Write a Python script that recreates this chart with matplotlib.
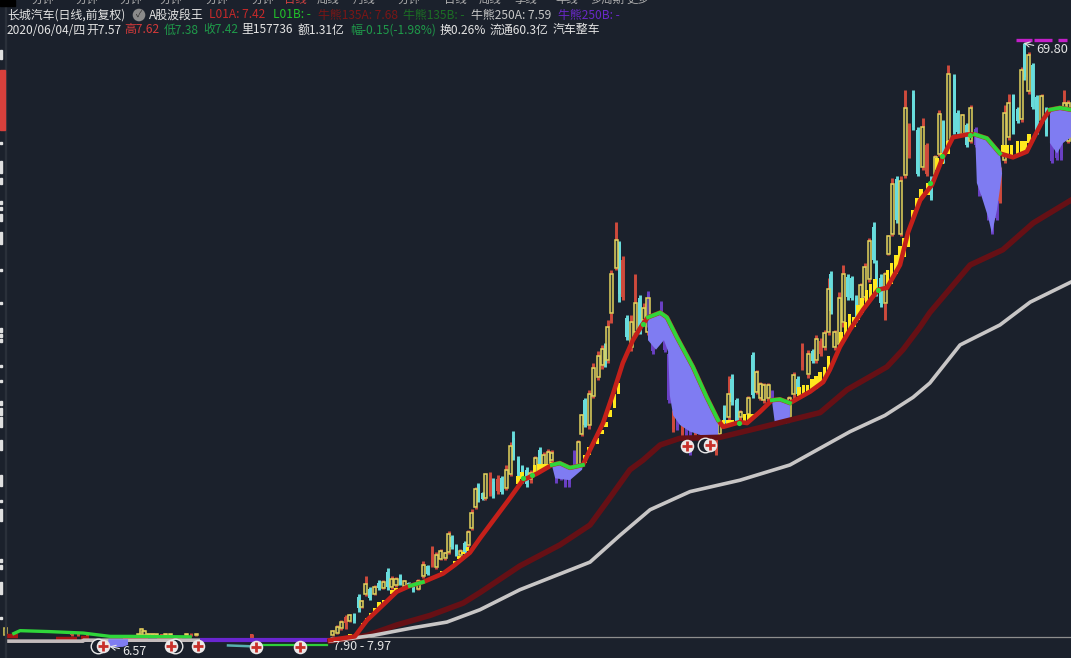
import numpy as np
import matplotlib
matplotlib.use("Agg")
import matplotlib.pyplot as plt
from matplotlib.patches import Rectangle

plt.rcParams['font.family'] = ['Noto Sans CJK SC', 'DejaVu Sans']
W, H = 1071, 658
BG = '#1b212c'

# ---- candles ----
candle_day = [-0.1,1,2,3,4,5.1,6.1,6.8,7.8,8.8,9.9,10.9,12,13,14,15,16,17,18,19.1,20.3,21.5,22.5,23.6,24.6,25.6,26.7,27.5,28.3,29.3,30.3,31.4,32.2,33,34,34.6,
 35.6,36.3,37.4,38.2,39.2,40.2,41.3,42.3,42.9,44.1,45.1,46.1,47.1,48.2,49.2,50.2,51.3,52.1,53.2,54.3,55.3,56.3,57.4,58.4,59.2,60,61,62,63.1,64.1,64.8,
 65.4,66.3,67.4,68.2,69,70,71,72,73,74,75,75.1,76.1,77.1,78.1,79,80,81,82,83.1,84.1,85.1,86.2,87.2,88.2,89.3,90.3,91.3,92.1,93.2,94.2,95,96.1,97,98.9,99.9,100.9,101.7,102.6,103.6,104.6,105.6,106.7,107.6,108.6,109.7,110.7,111.7,
 113.1,114.2,115.1,116.1,117.1,118,118.5,119.5,120.5,121.5,122.5,123.5,124.6,125.6,126.6,127.7,128.7,129.4,130.4,131.5,132.2,133.2,134.2,135.2,
 136.2,137.2,138.2,139.2,140.4,141.4,142.4,143.4,144.4,145.3,146.5,147.9,148.8,149.8,150.9,151.9,153,153.9,155,156,157,158,158.8,159.9,160.9,162,163,164,164.6,165.6,166.6,167.6,168.8,169.8,171.1,172.3,173.4,174.1,175.1,
 -77.9,-62.2,-60.6,-58.6,-46.3,-45.6,-45,-44,-43,-42,-40.8,-39.9,-38.8,-34.9,-33.7,-32.5,-19.3]
candle_high = [8.7,9.2,9.7,10.2,10.3,10.5,12.4,11.8,14.3,13.2,13.4,13.9,13.9,15.2,14.3,14.2,14.5,13.9,13.7,13.6,14,15.9,15.5,17.5,16.9,17.2,16.9,19.1,18.6,17.7,17.2,18,19.2,21.4,23.7,24.1,
 23.2,25.1,25.3,24.6,24.9,24.8,26,28.4,29.6,26.9,26,25.8,25.5,26.9,27.9,27.4,27.7,27.6,25.3,25.6,25.5,26,27.6,28.6,31.4,33,33.9,36.7,38,38.6,38.8,
 41.2,46.5,51.5,49.5,47.9,41.7,41.7,46.1,43.8,43,43.7,44.3,41.6,41.6,43.2,41.9,37.9,31.8,31.6,31.4,31.4,30.4,31.2,30.7,30.4,30.9,29.3,31.1,30.7,32.3,35.3,35.6,33,31.8,33.2,37.9,36,34.7,34.6,34.6,33.9,32.5,32.6,32.5,33.2,35.8,35.3,38.8,
 38.1,38.2,39.6,39.3,40.2,45.6,46.4,40.2,44.2,47,46,45.8,43.8,45.1,47.2,49.8,51.5,47.5,46,46.3,50.1,56.1,56.3,56.3,
 65.4,61.9,65.4,61.5,62.4,59.8,56.3,58.5,63.3,62.2,68,67,63.3,62.9,61.9,63.8,61.5,59.4,57.3,55.6,54.2,54.2,57.3,63.8,65,65,63.6,67.8,70.3,69.4,68.2,64.8,65,63.6,61.5,60.5,60.1,65.4,64.3,
 9.0,8.5,8.3,8.3,8.3,8.85,8.7,8.4,8.4,8.25,8.25,8.4,8.3,8.4,8.4,8.4,8.25]
candle_low = [8.0,8.2,8.7,8.8,9.5,9.4,10.6,11,12.2,11.8,12.3,12.9,13,12.9,13,13.2,13.4,13.2,13.3,12.7,12.9,14.1,14.4,15.3,15.1,16,16,16.7,17.2,16.4,16.3,16.7,17.4,19.2,21.4,22.1,
 22.3,22.3,22.7,22.5,23,23,23.4,24.8,26.5,24.8,24.1,23.7,24.1,25.1,25.5,25.8,25.8,26.3,24.1,24.4,23.7,23.7,25.5,25.8,29,30,29.8,33,34.9,36.1,36.3,
 36.7,40.9,46.5,43.1,43.3,39.1,38,39.8,39.8,40.9,39.6,40.5,37.7,38.6,40,37.9,32.5,29.5,29.7,29,28.8,27,29,29.3,29,28.8,28.3,27,29,30.4,30.7,32.3,30.4,30.7,31.1,33,33.5,32.8,32.5,32.7,32.8,30.4,30.4,30.4,30.7,32.8,33.3,36,
 35.1,36.7,36.7,37.4,38.1,39.6,41.9,38.1,38.4,40.5,43.3,43.3,41,41.9,43.3,45.2,47.2,43.7,42.6,41.2,48,50,51.4,50,
 56.1,58.2,61.2,56.3,57,56.3,53.8,56.3,58.4,57.7,59.8,60.8,60.8,60.5,59.4,59.8,59.4,54.2,54.2,51.7,50.3,51.7,53.5,57.7,60.1,60.8,61.9,62,66.4,65,63.4,60.8,61.9,60.5,57.7,58,58,60.1,59.8,
 8.0,8.0,8.0,8.0,7.9,8.0,8.0,8.0,7.9,8.0,7.9,8.0,8.0,8.0,8.0,8.0,7.6]
candle_open = [8.1,8.4,8.9,9.4,9.6,10.3,12.1,11.1,12.5,13,12.5,13.6,13.1,14.8,13.2,13.4,14.3,13.3,13.6,13.5,13,14.3,15.4,15.4,15.3,16.1,16.2,16.9,18.4,17.5,16.5,17.8,17.6,19.4,21.6,23.9,
 23.1,22.5,23,24.2,23.3,24.6,23.6,25,28.8,26.6,25.8,25.5,24.5,25.3,27.6,26,26,26.5,25,25.4,25.3,25.8,27.4,26,29.2,32.8,30.2,33.2,35.2,36.5,38.5,
 37,42,46.7,49.3,43.6,41.4,38.4,40,43.5,41.2,40,44,41.3,41.3,43,41.6,37.6,31.6,31.4,31.2,31.2,30.2,31,30.5,30.2,30.7,29.1,30.9,29.3,32,31,35,32.8,31,31.4,37.5,33.7,33,32.8,33,33.7,32.3,32.4,32.3,30.9,33.4,35,36.3,
 35.5,38,37,39,38.4,40,46,38.4,38.7,41,45.7,45.6,43.5,42.2,43.6,45.5,51,47,45.6,43,48.2,50.3,56,50.3,
 56.4,61.6,65,61.2,57.3,59.6,56,56.5,58.7,62,60,66.5,63,60.7,61.7,60,61.3,59.2,57,55.4,54,54,57,58,60.4,64.8,63.4,62.3,70,65.3,68,64.6,62.2,63.4,61.3,60.3,59.9,60.4,60,
 8.1,8.1,8.1,8.1,8.1,8.1,8.1,8.1,8.1,8.1,8.1,8.1,8.1,8.1,8.1,8.1,7.8]
candle_close = [8.6,9.0,9.5,10,10.2,9.6,11,11.7,13.5,12,13.2,13.1,13.7,13.2,14,14,13.5,13.8,13.4,12.9,13.8,15.5,14.6,16.8,16.5,17,16.8,18.8,17.4,16.6,17,16.9,19,21,23.5,22.3,
 22.4,25,24.6,22.8,24.5,23.2,25.5,28,26.8,25,24.4,24,25.2,26.7,25.8,27,27.4,27.3,24.3,24.6,24,24,25.8,28.4,31.2,30.2,33.5,36.2,37.4,38.2,36.6,
 40.5,46,49.6,44,47.5,39.4,41,43,40,42.5,43.5,40.8,38,38.8,40.2,38.1,32.8,29.8,30,29.3,29,27.3,29.3,29.5,29.2,29,28.5,27.3,30.5,30.6,33.5,32.6,30.6,31.6,33,33.3,35.8,34.5,34.4,34.4,33,30.6,30.6,30.6,33,35.4,33.5,38,
 37.7,36.9,39.2,37.6,39.9,44.5,42.2,40,43.5,46,43.6,43.5,41.2,44.9,46.8,49.5,47.5,44,43,46,50,55.5,51.7,55.8,
 63.5,58.5,61.5,56.5,61.5,56.6,54,58.3,62.8,57.9,67,61,61,62.7,59.6,63.5,59.6,54.4,54.4,51.9,50.5,51.9,53.7,63,64,61,62.1,67.5,66.7,69,63.6,61,64.7,60.7,57.9,58.2,58.2,64,64,
 8.9,8.4,8.2,8.2,8.2,8.8,8.6,8.3,8.3,8.2,8.2,8.3,8.2,8.3,8.3,8.3,8.2]
red_bars = [3,23.6,37.4,39.2,69,81,83.1,86.2,91.3,111.7,116.1,137.2,141.4,158.8,-62.2,-60.6,-58.6,-40.8,-33.7,-19.3]

# ---- moving averages ----
ma_day = [-0.7,5.2,8.1,11.9,15.2,18.3,21.4,26.2,29,32.6,35,42.1,45.2,48.6,52.1,54,56.4,59.5,61.2,64.3,66.7,69,71.4,73.6,75,77.9,79.5,81.9,85.7,89,91.7,92.9,96.9,98.6,101.7,104.5,106.4,108.8,113.6,116.7,118.3,120.7,123.1,126.2,129.8,131.9,135,136.9,139.8,142.6,145.2,147.6,151,152.9,155.7,158.8,161.9,165.2,169,170.7,173.1,175.7]
ma_fast = [7.6,8,9.7,11.3,12.7,13.3,13.7,14.6,15.5,16.8,18.3,22.5,24.4,25.1,26,26.2,25.7,26,27.6,30.4,33.5,36.7,39.1,40.7,41.5,42,41.5,39.4,36.3,33.1,30.7,30,30.5,30.4,31.6,32.8,32.9,32.5,33.7,34.7,36,38.4,40.2,42.3,44.4,44.6,47,50.4,53.8,55.4,58.3,60.4,60.7,60.7,60.3,58.7,58.3,58.9,62.2,63.3,63.5,63.3]
mid_day = [-0.7,8.1,15.2,23.1,31,35,44.5,54,61.2,66,70.7,73.8,77.9,82.6,92.1,102.4,116,122.4,131.9,135.7,139.8,142.1,151.7,159.5,166.7,175.7]
ma_mid = [7.5,8.1,9.2,10.2,11.5,12.6,15.4,17.6,19.7,22.6,25.5,26.5,28.1,28.8,28.9,30,31.5,33.9,36.3,38.1,40.5,42,47,48.6,51.4,53.8]
slow_day = [-0.7,9.5,19,27.1,35,44.5,61.2,68.3,75.5,85,96.9,108.8,123.1,131.4,138.1,142.1,149.3,158.8,166,175.7]
ma_slow = [7.5,8.1,8.9,9.5,10.8,12.9,15.8,18.6,21.3,23.2,24.4,26,29.5,31.2,33.1,34.6,38.6,40.7,43.1,45.2]
left_green_day = [-76,-74.5,-67.4,-59.5,-53.1,-48,-34]
left_green = [8.3,8.6,8.5,8.35,8.0,8.0,7.95]
left_grey_day = [-78,-59.5,-59.4,-31]
left_grey = [7.5,7.5,7.6,7.6]
left_red_seg_day = [[-78.2,-75],[-60,-58],[-50,-44],[-42,-36],[-66,-61]]
left_red_seg = [[8.0,8.0],[7.85,7.85],[7.75,7.75],[7.75,7.75],[7.75,7.75]]
purple_band_day = [-31.7,-0.7]
purple_band = [7.65,7.65]
teal_day = [-25,-19]
teal = [7.05,6.95]
green_low_day = [-17,-1.5]
green_low = [7.1,7.1]

green_spans = [(18.3,21.4),(52.1,59.5),(75,91.7),(104.5,108.8),(152.9,158.8),(170.7,175.7)]
green_dot_day = [45.3,47.3,73.7,96.7,129.8,142.2,144.9,151.7]
green_dot = [24.6,24.9,40.8,30.4,44.4,55.6,58.4,60.6]

# lower edge of the shaded dips
dip_day = [[52.9,56.4,59.3],[75,76.9,78.8,79.8,80.2,81,82.6,85,88.6,91.7],[105.2,108.8],[153.3,154.5,156,156.9,158.1,159.3],[170.7,172.4,173.8,175.7]]
dip_low = [[24.6,24.4,25.5],[39.1,38.1,39.1,37.9,33.3,31.2,30.2,29.5,29,29],[30.4,30.4],[55.6,54.1,52,50.3,52.8,56.6],[59.8,58.7,59.8,60.4]]
left_dip_day = [-53.5,-48.8,-48.8,-50,-53.5]
left_dip = [7.7,7.7,7.1,6.9,6.85]

# ---- yellow blocks above the fast line ----
yellow_day = [4,7,8,9,10,11,12,14,15,25,26,29,30,31,32,44,45,48,49,50,51,52,60,61,63,64,65,66,67,68,93,94,95,98,99,100,
 111,112,113,114,115,116,117,118,121,122,123,124,125,126,127,128,129,132,133,134,135,136,137,138,139,140,141.7,143.8,145,146.4,159.5,160.5,161.5,163,164,164.8,165.7]
yellow_bot = [8,8.9,9.5,10,10.5,11,11.3,12.5,12.7,14.3,14.6,15.6,16.1,16.6,17,24,24.5,25.2,25.3,25.4,25.6,25.8,26.2,27,28.2,29.2,30,31,32,33.4,30,30.1,30.2,30.5,30.7,31,
 33.2,33.4,33.6,33.8,34,34.3,34.8,35.5,38.5,39.2,40,40.5,41.2,42,42.8,43.5,44,44.6,45,46,47,47.8,48.9,51.4,52.8,53.8,54.3,57,57.6,58.7,58.4,58.4,58.4,58.5,58.6,58.8,59.8]
yellow_top = [8.3,9.4,9.9,10.5,11,11.6,11.8,12.9,13.1,14.6,14.9,15.9,16.4,16.9,17.4,24.8,25.3,26,26.1,26.1,26.1,26.3,27,27.9,28.8,29.7,30.5,31.8,33.5,34.6,30.7,30.7,30.7,31.4,31.4,31.4,
 34.2,34.4,34.4,35,35.3,35.8,36.3,37.4,40,41,41.8,41.5,42.8,43.5,44.4,45,45.5,46.5,47.2,48,49,49.8,50.8,52.8,54,55,55.6,58.2,58.8,60,59.6,59.6,59.6,60,60,60,60.8]

# ---- signals and labels ----
buy_day = [-54.8,-38.6,-32.1,-18.3,-7.9,84.3,89.8]
buy_price = [7.0,7.0,7.0,6.9,6.9,28,28.1]
ghost_day = [-56,-37.7,88.6]
ghost_price = [7.0,6.95,28.1]
top_bar_start = [162.6,166.9,172.6]
top_bar_end = [166.4,171.2,174.8]
top_bar_price = [70.6,70.6,70.6]
base_price = 7.9

# clipped side tab marks along the left edge (top and bottom, screen rows)
edge_top = [50,142,161,178,201,207,214,232,269,302,328,334,339,365,380,401,408,417,440,475,500,509,559,565,582,617]
edge_bot = [59,144,173,184,204,210,221,244,271,304,332,337,342,367,382,405,415,427,450,486,502,521,562,569,594,619]

x0, x1 = -333/4.2, (W-333)/4.2
y0, y1 = 5.73, 74.82

fig = plt.figure(figsize=(W/100, H/100), dpi=100, facecolor=BG)
ax = fig.add_axes([0, 0, 1, 1])
ax.set_xlim(x0, x1)
ax.set_ylim(y0, y1)
ax.set_facecolor(BG)
ax.axis('off')

CY = '#68dcdc'; YE = '#e2d25c'; RD = '#cf4a3c'; PU = '#6a40c4'
def in_span(d):
    return any(a <= d <= b for a, b in green_spans[1:])

for d, h, l, o, c in zip(candle_day, candle_high, candle_low, candle_open, candle_close):
    bw = 0.72
    if d in red_bars:
        ax.vlines(d, l, h, color=RD, lw=2.1, zorder=2)
        ax.bar(d, abs(c-o), bw, bottom=min(o, c), color=RD, zorder=2)
    elif c >= o:
        ax.vlines(d, max(o, c), h, color=RD, lw=2.1, zorder=2)
        ax.vlines(d, l, min(o, c), color=RD, lw=2.1, zorder=2)
        ax.bar(d, c-o, bw, bottom=o, facecolor=(0.35, 0.4, 0.3, 0.35), edgecolor=YE, lw=1.1, zorder=2.2)
    else:
        col = PU if in_span(d) else CY
        ax.vlines(d, l, h, color=col, lw=2.1, zorder=2)
        ax.bar(d, o-c, bw, bottom=c, color=col, zorder=2)

ma_d = np.array(ma_day); ma_f = np.array(ma_fast)
PERI = '#7f7cf2'
for (a, b), dd, dl in zip(green_spans[1:], dip_day, dip_low):
    m = (ma_d >= a) & (ma_d <= b)
    ax.fill(np.r_[ma_d[m], dd[::-1]], np.r_[ma_f[m], dl[::-1]], color=PERI, lw=0, zorder=3)

ax.bar(yellow_day, np.array(yellow_top)-np.array(yellow_bot), 0.85, bottom=yellow_bot, color='#ffe81e', zorder=4)

ax.hlines(base_price, -0.7, x1, color='#8e8e8e', lw=0.9, zorder=1)
ax.plot(left_grey_day, left_grey, color='#c4bcbc', lw=2.6, zorder=4.5, solid_capstyle='butt')
for sd, sv in zip(left_red_seg_day, left_red_seg):
    ax.plot(sd, sv, color='#a81414', lw=3.2, zorder=3.5, solid_capstyle='butt')
ax.plot(teal_day, teal, color='#58b0b0', lw=1.8, zorder=3.5)
ax.plot(green_low_day, green_low, color='#2fcf3a', lw=1.6, zorder=3.5)
ax.plot(purple_band_day, purple_band, color='#6a26d0', lw=3.0, zorder=4.6, solid_capstyle='butt')
ax.fill(left_dip_day, left_dip, color=PERI, lw=0, zorder=4.7)

ax.plot(mid_day, ma_mid, color='#661015', lw=4.0, zorder=5, solid_joinstyle='round')
ax.plot(slow_day, ma_slow, color='#c8c6c6', lw=2.6, zorder=5, solid_joinstyle='round')
ax.plot(ma_d, ma_f, color='#c4201a', lw=3.3, zorder=6, solid_joinstyle='round')
for a, b in green_spans:
    m = (ma_d >= a) & (ma_d <= b)
    ax.plot(ma_d[m], ma_f[m], color='#2fd63a', lw=2.8, zorder=7)
ax.scatter(green_dot_day, green_dot, s=14, color='#2fd63a', zorder=7, lw=0)
ax.plot(left_green_day, left_green, color='#2fd63a', lw=2.4, zorder=4)

ax.hlines(top_bar_price, top_bar_start, top_bar_end, color='#c21fc8', lw=2.4, zorder=8)

ax.scatter(ghost_day, ghost_price, s=110, facecolor=BG, edgecolor='#e8e8e8', lw=1, zorder=8)
ax.scatter(buy_day, buy_price, s=95, color='#ece8e8', lw=0, zorder=9)
ax.scatter(buy_day, buy_price, s=55, marker='+', color='#c8302a', lw=2.0, zorder=10)

ax.annotate('6.57', xy=(-53.2, 6.95), xytext=(-50.2, 6.37), color='#e6e6e6', fontsize=9, va='center',
            arrowprops=dict(arrowstyle='->', color='#e6e6e6', lw=0.8, shrinkA=0, shrinkB=0), zorder=11)
ax.annotate('69.80', xy=(164.4, 70.3), xytext=(167.5, 69.6), color='#e6e6e6', fontsize=9.2, va='center',
            arrowprops=dict(arrowstyle='->', color='#e6e6e6', lw=0.8, shrinkA=0, shrinkB=0), zorder=11)
ax.text(0, 6.9, '7.90 - 7.97', color='#e6e6e6', fontsize=9, va='center', zorder=11)

def T(px, py, s, c='#e4e4e4', size=8.6, va='center'):
    fig.text(px/W, 1-py/H, s, color=c, fontsize=size, va=va, ha='left')

fig.patches.append(Rectangle((5/W, 0), 1/W, 1, transform=fig.transFigure, color='#2a303a'))
for t, b in zip(edge_top, edge_bot):
    fig.patches.append(Rectangle((0, 1-b/H), 2/W, (b-t)/H, transform=fig.transFigure, color='#e0e0e0'))
fig.patches.append(Rectangle((0, 1-130/H), 5/W, 60/H, transform=fig.transFigure, color='#d8403c'))
fig.patches.append(Rectangle((0, 1-6/H), 15/W, 6/H, transform=fig.transFigure, color='#000000'))

# clipped tab row along the top edge
for px, s, c in [(31,'分钟','#b0b0b0'),(75,'分钟','#b0b0b0'),(120,'分钟','#b0b0b0'),(160,'分钟','#b0b0b0'),
                 (205,'分钟','#b0b0b0'),(251,'分钟','#b0b0b0'),(284,'日线','#d04040'),(317,'周线','#b0b0b0'),
                 (353,'月线','#b0b0b0'),(398,'分钟','#b0b0b0'),(444,'日线','#b0b0b0'),(479,'周线','#b0b0b0'),
                 (515,'季线','#b0b0b0'),(555,'年线','#b0b0b0'),(590,'多周期','#b0b0b0'),(626,'更多','#b0b0b0')]:
    T(px, 5, s, c, size=8.2, va='bottom')

# header
T(7, 15, '长城汽车(日线,前复权)')
fig.text(139/W, 1-15/H, '\u2713', color='#2a2a2a', fontsize=6.5, va='center', ha='center', zorder=3,
         bbox=dict(boxstyle='circle,pad=0.2', fc='#8a8a8a', ec='none'))
T(149, 15, 'A股波段王')
T(209, 15, 'L01A: 7.42', '#c62a2a')
T(273, 15, 'L01B: -', '#22c22a')
T(318, 15, '牛熊135A: 7.68', '#7a1616')
T(403, 15, '牛熊135B: -', '#1c6e24')
T(471, 15, '牛熊250A: 7.59', '#c8c8c8')
T(558, 15, '牛熊250B: -', '#6a28c8')

T(7, 30, '2020/06/04/四')
T(86, 30, '开7.57')
T(124, 30, '高7.62', '#d23a3a')
T(164, 30, '低7.38', '#1f9a4a')
T(203, 30, '收7.42', '#1f9a4a')
T(241, 30, '里157736')
T(298, 30, '额1.31亿')
T(350, 30, '幅-0.15(-1.98%)', '#1f9a4a')
T(440, 30, '换0.26%')
T(490, 30, '流通60.3亿')
T(553, 30, '汽车整车')

fig.savefig('out.png', dpi=100, facecolor=BG)
